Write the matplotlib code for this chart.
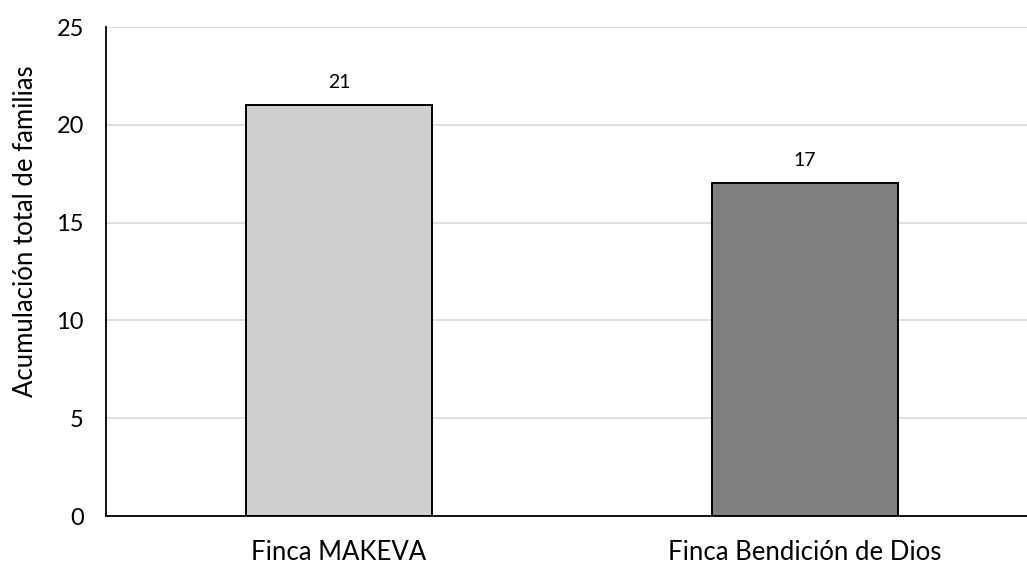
import matplotlib
matplotlib.use("Agg")
import matplotlib.pyplot as plt

# families counted per farm
fincas = ["Finca MAKEVA", "Finca Bendición de Dios"]
familias = [21, 17]
colores = ["#D0CECE", "#7F7F7F"]

plt.rcParams["font.family"] = ["Lato", "DejaVu Sans"]

fig = plt.figure(figsize=(10.27, 5.64), dpi=100)
ax = fig.add_axes([0.1032, 0.0851, 0.9075, 0.867])

pos = range(len(fincas))
barras = ax.bar(pos, familias, width=0.40, color=colores,
                edgecolor="black", linewidth=1.4, zorder=3)

# value labels above each bar
for b, v in zip(barras, familias):
    ax.text(b.get_x() + b.get_width() / 2, v + 0.75, str(v),
            ha="center", va="bottom", fontsize=14)

ax.set_xlim(-0.5, 1.5)
ax.set_ylim(0, 25)
ax.set_yticks([0, 5, 10, 15, 20, 25])
ax.set_xticks(list(pos))
ax.set_xticklabels(fincas, fontsize=18.5)
ax.tick_params(axis="y", length=0, labelsize=17, pad=16)
ax.tick_params(axis="x", length=0, pad=17)
ax.set_ylabel("Acumulación total de familias", fontsize=18.5)
ax.yaxis.set_label_coords(-0.073, 0.583)

ax.grid(axis="y", color="#D9D9D9", linewidth=1.2, zorder=0)
ax.spines["top"].set_visible(False)
ax.spines["right"].set_visible(False)
ax.spines["left"].set_linewidth(1.3)
ax.spines["bottom"].set_linewidth(1.3)

fig.savefig("out.png", dpi=100)
